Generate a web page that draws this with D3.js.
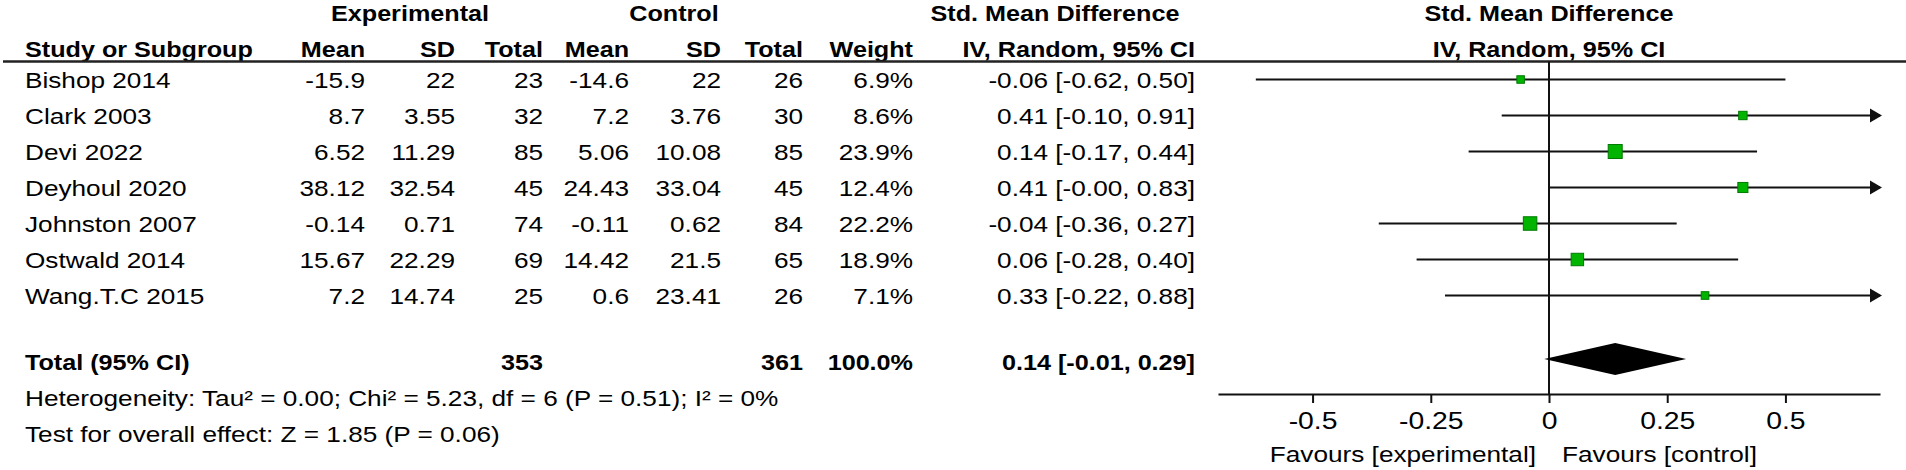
<!DOCTYPE html>
<html>
<head>
<meta charset="utf-8">
<script src="https://cdn.jsdelivr.net/npm/d3@7"></script>
<style>
  body { margin: 0; background: #fff; }
  svg { display: block; font-family: "Liberation Sans", Arial, sans-serif; }
  text { fill: #000; }
</style>
</head>
<body>
<svg id="chart" width="1906" height="470"></svg>
<script>
const studies = ["Bishop 2014", "Clark 2003", "Devi 2022", "Deyhoul 2020", "Johnston 2007", "Ostwald 2014", "Wang.T.C 2015"];
const expMean = [-15.9, 8.7, 6.52, 38.12, -0.14, 15.67, 7.2];
const expSD = [22, 3.55, 11.29, 32.54, 0.71, 22.29, 14.74];
const expN = [23, 32, 85, 45, 74, 69, 25];
const ctlMean = [-14.6, 7.2, 5.06, 24.43, -0.11, 14.42, 0.6];
const ctlSD = [22, 3.76, 10.08, 33.04, 0.62, 21.5, 23.41];
const ctlN = [26, 30, 85, 45, 84, 65, 26];
const weights = [6.9, 8.6, 23.9, 12.4, 22.2, 18.9, 7.1];
const smd = [-0.06, 0.41, 0.14, 0.41, -0.04, 0.06, 0.33];
const lower = [-0.62, -0.10, -0.17, -0.00, -0.36, -0.28, -0.22];
const upper = [0.50, 0.91, 0.44, 0.83, 0.27, 0.40, 0.88];

const totalN = [353, 361];
const totalWeight = 100.0;
const totalEst = [0.14, -0.01, 0.29]; // smd, lower, upper

const heterogeneity = "Heterogeneity: Tau\u00B2 = 0.00; Chi\u00B2 = 5.23, df = 6 (P = 0.51); I\u00B2 = 0%";
const overallTest = "Test for overall effect: Z = 1.85 (P = 0.06)";

const tickValues = [-0.5, -0.25, 0, 0.25, 0.5];
const tickLabels = ["-0.5", "-0.25", "0", "0.25", "0.5"];
const favours = ["Favours [experimental]", "Favours [control]"];

// layout
const FS = 22, SX_REG = 1.19, SX_BOLD = 1.145;
const cols = { name: 25, eMean: 365, eSD: 455, eN: 543, cMean: 629, cSD: 721, cN: 803, w: 913, ci: 1195 };

const svg = d3.select("#chart");

function label(x, y, s, opts = {}) {
  const { anchor = "start", bold = false, size = FS } = opts;
  const sx = bold ? SX_BOLD : SX_REG;
  return svg.append("text")
    .attr("transform", `translate(${x},${y}) scale(${sx},1)`)
    .attr("text-anchor", anchor)
    .attr("font-weight", bold ? "bold" : "normal")
    .attr("font-size", size)
    .text(s);
}

const f2 = (v) => (v < 0 || Object.is(v, -0) ? "-" : "") + Math.abs(v).toFixed(2);
const ciText = (m, lo, hi) => `${f2(m)} [${f2(lo)}, ${f2(hi)}]`;

// rows: studies 0..6, then total / footer lines
const y = d3.scaleLinear().domain([0, 1]).range([79.5, 115.5]);
const TOTAL_ROW = 7.85;
const TXT = 8; // baseline offset below the row's line

const x = d3.scaleLinear().domain([-0.7, 0.7]).range([1218, 1880]);
const size = d3.scaleSqrt().domain([0, 23.9]).range([0, 14]);

// header
label(410, 21, "Experimental", { anchor: "middle", bold: true });
label(674, 21, "Control", { anchor: "middle", bold: true });
label(1055, 21, "Std. Mean Difference", { anchor: "middle", bold: true });
label(x(0), 21, "Std. Mean Difference", { anchor: "middle", bold: true });

label(cols.name, 57, "Study or Subgroup", { bold: true });
[["eMean", "Mean"], ["eSD", "SD"], ["eN", "Total"], ["cMean", "Mean"], ["cSD", "SD"], ["cN", "Total"], ["w", "Weight"], ["ci", "IV, Random, 95% CI"]]
  .forEach(([k, s]) => label(cols[k], 57, s, { anchor: "end", bold: true }));
label(x(0), 57, "IV, Random, 95% CI", { anchor: "middle", bold: true });

svg.append("line")
  .attr("x1", 3).attr("x2", 1906).attr("y1", 61.5).attr("y2", 61.5)
  .attr("stroke", "#222").attr("stroke-width", 2.5);

// study rows
studies.forEach((s, i) => {
  const by = y(i) + TXT;
  label(cols.name, by, s);
  label(cols.eMean, by, String(expMean[i]), { anchor: "end" });
  label(cols.eSD, by, String(expSD[i]), { anchor: "end" });
  label(cols.eN, by, String(expN[i]), { anchor: "end" });
  label(cols.cMean, by, String(ctlMean[i]), { anchor: "end" });
  label(cols.cSD, by, String(ctlSD[i]), { anchor: "end" });
  label(cols.cN, by, String(ctlN[i]), { anchor: "end" });
  label(cols.w, by, weights[i].toFixed(1) + "%", { anchor: "end" });
  label(cols.ci, by, ciText(smd[i], lower[i], upper[i]), { anchor: "end" });
});

// total and footer
const ty = y(TOTAL_ROW) + TXT;
label(cols.name, ty, "Total (95% CI)", { bold: true });
label(cols.eN, ty, String(totalN[0]), { anchor: "end", bold: true });
label(cols.cN, ty, String(totalN[1]), { anchor: "end", bold: true });
label(cols.w, ty, totalWeight.toFixed(1) + "%", { anchor: "end", bold: true });
label(cols.ci, ty, ciText(...totalEst), { anchor: "end", bold: true });
label(cols.name, y(TOTAL_ROW + 1) + TXT, heterogeneity);
label(cols.name, y(TOTAL_ROW + 2) + TXT, overallTest);

// forest plot
const axisY = 394;
const plot = svg.append("g");

plot.append("line")
  .attr("x1", x(0)).attr("x2", x(0)).attr("y1", 61.5).attr("y2", axisY)
  .attr("stroke", "#111").attr("stroke-width", 2);

const [dmin, dmax] = x.domain();
studies.forEach((s, i) => {
  const cy = y(i);
  const x1 = x(Math.max(lower[i], dmin));
  const x2 = x(Math.min(upper[i], dmax));
  plot.append("line")
    .attr("x1", x1).attr("x2", x2).attr("y1", cy).attr("y2", cy)
    .attr("stroke", "#111").attr("stroke-width", 2);
  if (upper[i] > dmax) {
    const tip = x(dmax) + 2;
    plot.append("path")
      .attr("d", `M${tip},${cy} L${tip - 12},${cy - 7} L${tip - 12},${cy + 7} Z`)
      .attr("fill", "#111");
  }
  const s2 = size(weights[i]);
  plot.append("rect")
    .attr("x", x(smd[i]) - s2 / 2).attr("y", cy - s2 / 2)
    .attr("width", s2).attr("height", s2)
    .attr("fill", "#00b400").attr("stroke", "#007a00").attr("stroke-width", 1);
});

const dy = y(TOTAL_ROW) - 3;
plot.append("path")
  .attr("d", `M${x(totalEst[1])},${dy} L${x(totalEst[0])},${dy - 16} L${x(totalEst[2])},${dy} L${x(totalEst[0])},${dy + 16} Z`)
  .attr("fill", "#000");

const axis = plot.append("g")
  .attr("transform", `translate(0,${axisY})`)
  .call(d3.axisBottom(x).tickValues(tickValues).tickFormat((d, i) => tickLabels[i]).tickSize(9).tickSizeOuter(0).tickPadding(9));
axis.select(".domain").attr("stroke", "#111").attr("stroke-width", 2);
axis.selectAll(".tick line").attr("stroke", "#111").attr("stroke-width", 2);
axis.selectAll(".tick text")
  .attr("font-size", 24)
  .attr("font-family", "Liberation Sans, Arial, sans-serif")
  .attr("fill", "#000")
  .attr("transform", "scale(1.18,1)");

label(x(0) - 13, 462, favours[0], { anchor: "end" });
label(x(0) + 13, 462, favours[1]);
</script>
</body>
</html>
